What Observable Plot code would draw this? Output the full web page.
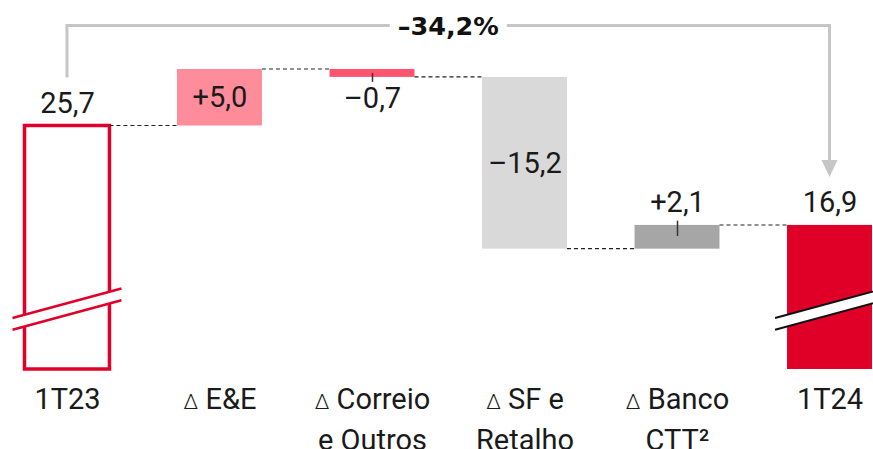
<!DOCTYPE html>
<html><head><meta charset="utf-8">
<script src="https://cdn.jsdelivr.net/npm/d3@7"></script>
<script src="https://cdn.jsdelivr.net/npm/@observablehq/plot@0.6"></script>
<style>
html,body{margin:0;padding:0;background:#fff;}
#chart svg{display:block;}
</style></head><body><div id="chart"></div>
<script>
// ---- data ----
const categories = ["1T23", "Δ E&E", "Δ Correio e Outros", "Δ SF e Retalho", "Δ Banco CTT²", "1T24"];
const tickLines = [["1T23"], ["Δ E&E"], ["Δ Correio", "e Outros"], ["Δ SF e", "Retalho"], ["Δ Banco", "CTT²"], ["1T24"]];
const values = [25.7, 5.0, -0.7, -15.2, 2.1, 16.9];
const kinds = ["total", "delta", "delta", "delta", "delta", "total"];
const valueLabels = ["25,7", "+5,0", "–0,7", "–15,2", "+2,1", "16,9"];
const labelPlacement = ["above", "inside", "below", "inside", "above", "above"];
const changeLabel = "–34,2%";
const axisFloor = 4.15;   // broken value axis starts here
const breakValue = 9.45;  // where the break marks sit

// ---- styles ----
const barColors = ["#ffffff", "#ff8c9b", "#ff5470", "#d9d9d9", "#a6a6a6", "#e00027"];
const red = "#e0002a";
const ink = "#1a1a1a";
const fontFamily = "Roboto, 'Noto Sans', sans-serif";
const fs = 29;

let run = 0;
const rows = categories.map((c, i) => {
  let y1, y2;
  if (kinds[i] === "total") { y1 = axisFloor; y2 = values[i]; }
  else { y1 = run; y2 = run + values[i]; }
  run = kinds[i] === "total" ? values[i] : y2;
  return {cat: c, i, y1, y2, lo: Math.min(y1, y2), hi: Math.max(y1, y2), end: run,
          label: valueLabels[i], place: labelPlacement[i], kind: kinds[i]};
});

function connectors(index, scales) {
  const {x, y} = scales; const bw = x.bandwidth();
  const g = d3.create("svg:g");
  for (let i = 0; i < rows.length - 1; i++) {
    const yy = y(rows[i].end);
    g.append("line")
      .attr("x1", x(rows[i].cat) + bw).attr("x2", x(rows[i + 1].cat))
      .attr("y1", yy).attr("y2", yy)
      .attr("stroke", "#222").attr("stroke-width", 1.1).attr("stroke-dasharray", "4,3");
  }
  return g.node();
}

function breakMarks(index, scales) {
  const {x, y} = scales; const bw = x.bandwidth();
  const g = d3.create("svg:g");
  const specs = [{cat: categories[0], color: red, w: 2.5}, {cat: categories[5], color: "#111", w: 2}];
  for (const b of specs) {
    const cx = x(b.cat) + bw / 2, cy = y(breakValue);
    const hw = bw / 2 + 12, s = 0.27, h = 5.85;
    const xl = cx - hw, xr = cx + hw;
    const a1 = cy - h + s * hw, b1 = cy - h - s * hw;
    const a2 = cy + h + s * hw, b2 = cy + h - s * hw;
    g.append("path").attr("d", `M${xl},${a1}L${xr},${b1}L${xr},${b2}L${xl},${a2}Z`).attr("fill", "#fff");
    g.append("path").attr("d", `M${xl},${a1}L${xr},${b1}M${xl},${a2}L${xr},${b2}`)
      .attr("stroke", b.color).attr("stroke-width", b.w).attr("fill", "none");
  }
  return g.node();
}

function bracket(index, scales, values, dims) {
  const {x, y} = scales; const bw = x.bandwidth();
  const xa = x(categories[0]) + bw / 2, xb = x(categories[5]) + bw / 2;
  const top = dims.marginTop + 5;
  const ya = y(rows[0].end) - 48;
  const tip = y(rows[5].end) - 48;
  const head = 17;
  const mid = (xa + xb) / 2, gap = 58.5;
  const g = d3.create("svg:g");
  g.append("path")
    .attr("d", `M${xa},${ya}V${top}H${mid - gap}M${mid + gap},${top}H${xb}V${tip - head + 1}`)
    .attr("fill", "none").attr("stroke", "#c6c6c6").attr("stroke-width", 3)
    .attr("stroke-linejoin", "miter").attr("stroke-linecap", "butt");
  g.append("path").attr("d", `M${xb - 8},${tip - head}L${xb + 8},${tip - head}L${xb},${tip}Z`).attr("fill", "#c6c6c6");
  g.append("text").attr("x", mid).attr("y", top).attr("dy", "0.36em")
    .attr("text-anchor", "middle").attr("font-family", "'DejaVu Sans', sans-serif")
    .attr("font-weight", "bold").attr("font-size", 25.5).attr("fill", "#111").text(changeLabel);
  return g.node();
}

const chart = Plot.plot({
  width: 873, height: 449,
  marginLeft: 24.5, marginRight: 1, marginTop: 20.4, marginBottom: 80,
  style: {fontFamily, fontSize: fs + "px", color: ink, background: "#fff"},
  x: {domain: categories, paddingInner: 0.443, paddingOuter: 0, round: false, axis: null},
  y: {domain: [axisFloor, 35], axis: null},
  color: {domain: categories, range: barColors},
  marks: [
    Plot.barY(rows, {x: "cat", y1: "y1", y2: "y2", fill: "cat",
      stroke: d => d.i === 0 ? red : "none", strokeWidth: 3.5}),
    breakMarks,
    connectors,
    Plot.ruleX([rows[2]], {x: "cat", y1: "lo", y2: "lo", insetTop: 5, insetBottom: 4, stroke: "#333", strokeWidth: 1.5}),
    Plot.ruleX([rows[4]], {x: "cat", y1: "hi", y2: "hi", insetTop: 11, insetBottom: 4.3, stroke: "#333", strokeWidth: 1.5}),
    Plot.text(rows.filter(d => d.place === "above"), {x: "cat", y: "hi", text: "label", lineAnchor: "bottom", dy: -13, fontSize: fs, fill: ink}),
    Plot.text(rows.filter(d => d.place === "inside"), {x: "cat", y: d => (d.lo + d.hi) / 2, text: "label", lineAnchor: "middle", fontSize: fs, fill: ink}),
    Plot.text(rows.filter(d => d.place === "below"), {x: "cat", y: "lo", text: "label", lineAnchor: "top", dy: 10, fontSize: fs, fill: ink}),
    Plot.axisX({tickSize: 0, tickPadding: 11, fontSize: fs, lineHeight: 1.4, label: null,
      tickFormat: c => tickLines[categories.indexOf(c)].join("\n")}),
    bracket
  ]
});

document.getElementById("chart").appendChild(chart);

// smaller, lighter delta glyph as in the reference
d3.select(chart).selectAll("text, tspan").each(function () {
  if (this.childElementCount === 0 && this.textContent.startsWith("Δ")) {
    const rest = this.textContent.slice(1);
    this.textContent = "";
    d3.select(this).append("tspan").attr("font-size", 21).attr("font-weight", 300).text("Δ");
    d3.select(this).append("tspan").text(rest);
  }
});
</script>
</body></html>
